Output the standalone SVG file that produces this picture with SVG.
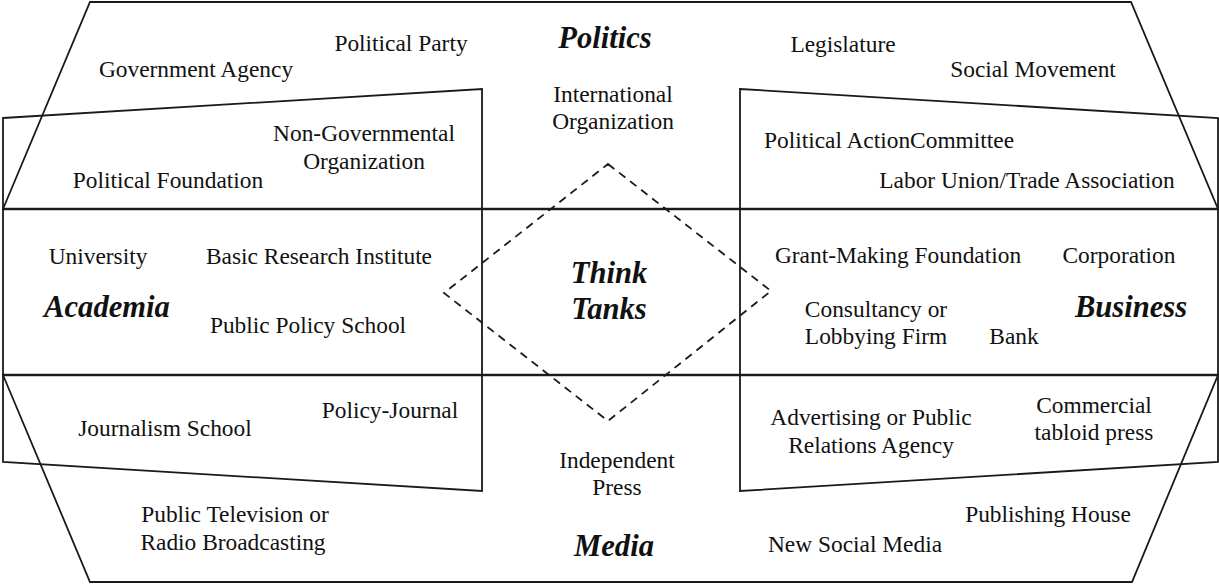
<svg xmlns="http://www.w3.org/2000/svg" width="1219" height="584" viewBox="0 0 1219 584">
<style>
.sh{fill:none;stroke:#1a1a1a;stroke-width:1.8;stroke-linejoin:miter}
.hl{stroke:#333;stroke-width:2.4}
.dm{fill:none;stroke:#1a1a1a;stroke-width:1.8;stroke-dasharray:8 6}
text{font-family:"Liberation Serif","Times New Roman",serif;fill:#111;text-anchor:middle}
.t{font-size:23.4px}
.b{font-size:30.6px;font-weight:bold;font-style:italic}
</style>
<rect width="1219" height="584" fill="#fff"/>
<g id="connectors">
<line class="hl" x1="3" y1="209" x2="1218" y2="209"/>
<line class="hl" x1="3" y1="375" x2="1218" y2="375"/>
<polygon class="dm" points="608,164 771,291 608,421 444,293"/>
</g>
<g id="politics">
<polygon class="sh" points="90,2 1131,2 1218,209 3,209"/>
<text class="b" x="605" y="48">Politics</text>
<text class="t" x="401" y="51">Political Party</text>
<text class="t" x="196" y="77">Government Agency</text>
<text class="t" x="843" y="52">Legislature</text>
<text class="t" x="1033" y="77">Social Movement</text>
<text class="t" x="613" y="102">International</text>
<text class="t" x="613" y="129">Organization</text>
</g>
<g id="media">
<polygon class="sh" points="3,375 1218,375 1132,582 90,582"/>
<text class="b" x="614" y="556">Media</text>
<text class="t" x="617" y="468">Independent</text>
<text class="t" x="617" y="495">Press</text>
<text class="t" x="235" y="522">Public Television or</text>
<text class="t" x="233" y="550">Radio Broadcasting</text>
<text class="t" x="1048" y="522">Publishing House</text>
<text class="t" x="855" y="552">New Social Media</text>
</g>
<g id="academia">
<polygon class="sh" points="3,118 482,89 482,491 3,462"/>
<text class="b" x="107" y="317">Academia</text>
<text class="t" x="364" y="141">Non-Governmental</text>
<text class="t" x="364" y="169">Organization</text>
<text class="t" x="168" y="188">Political Foundation</text>
<text class="t" x="98" y="264">University</text>
<text class="t" x="319" y="264">Basic Research Institute</text>
<text class="t" x="308" y="333">Public Policy School</text>
<text class="t" x="165" y="436">Journalism School</text>
<text class="t" x="390" y="418">Policy-Journal</text>
</g>
<g id="business">
<polygon class="sh" points="740,89 1218,118 1218,462 740,491"/>
<text class="b" x="1131" y="317">Business</text>
<text class="t" x="889" y="148">Political ActionCommittee</text>
<text class="t" x="1027" y="188">Labor Union/Trade Association</text>
<text class="t" x="898" y="263">Grant-Making Foundation</text>
<text class="t" x="1119" y="263">Corporation</text>
<text class="t" x="876" y="317">Consultancy or</text>
<text class="t" x="876" y="344">Lobbying Firm</text>
<text class="t" x="1014" y="344">Bank</text>
<text class="t" x="871" y="425">Advertising or Public</text>
<text class="t" x="871" y="453">Relations Agency</text>
<text class="t" x="1094" y="413">Commercial</text>
<text class="t" x="1094" y="440">tabloid press</text>
</g>
<g id="thinktanks">
<text class="b" x="609" y="283">Think</text>
<text class="b" x="609" y="319">Tanks</text>
</g>
</svg>
